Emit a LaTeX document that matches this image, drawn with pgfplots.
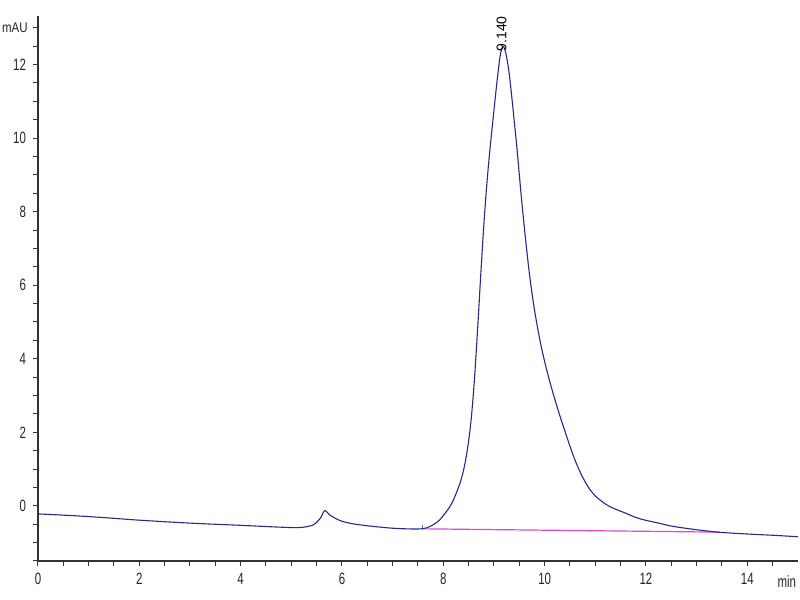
\documentclass[border=0pt]{standalone}
\usepackage{fontspec}
\setmainfont{Liberation Sans}[FakeStretch=0.7]
\newfontfamily\peakfont{Liberation Sans}
\newfontfamily\unitfont{Liberation Sans}[FakeStretch=0.82]
\usepackage{pgfplots}
\pgfplotsset{compat=1.18}
\definecolor{trace}{RGB}{40,40,135}
\definecolor{base}{RGB}{218,72,218}
\definecolor{axc}{RGB}{50,50,50}
\begin{document}
\begin{tikzpicture}
\begin{axis}[
  scale only axis,
  width=380pt, height=272.5pt,
  xmin=0, xmax=15, ymin=-1.5, ymax=13.32,
  axis lines=left,
  axis line style={-, axc, line width=0.6pt},
  tick align=outside,
  major tick length=2.5pt, minor tick length=2.5pt,
  tick style={axc, line width=0.5pt},
  xtick={0,2,...,14},
  ytick={0,2,...,12},
  minor xtick={0.5,1,...,14.5},
  minor ytick={-1.5,-1,...,13},
  /pgf/number format/assume math mode=true,
  ticklabel style={font=\fontsize{8.2}{10}\selectfont, text=black!85},
  clip=false,
]
\addplot[base, line width=0.6pt] coordinates {(7.58,-0.625) (13.46,-0.715)};
\addplot[black!60, line width=0.5pt] coordinates {(7.58,-0.64) (7.58,-0.52)};
\addplot[trace, line width=0.55pt, smooth, tension=0.5] coordinates {
(0,-0.22) (0.6,-0.26) (1.2,-0.31) (2,-0.39) (3.0,-0.47) (4,-0.53) (4.78,-0.58) (5.17,-0.59)
(5.43,-0.52) (5.57,-0.34) (5.66,-0.13) (5.76,-0.25) (5.96,-0.40) (6.22,-0.49) (6.62,-0.56)
(7.01,-0.61) (7.41,-0.63) (7.6,-0.62) (7.74,-0.56) (7.93,-0.38) (8.13,-0.02) (8.23,0.26)
(8.33,0.62) (8.38,0.86) (8.43,1.17) (8.48,1.58) (8.53,2.10) (8.57,2.66) (8.61,3.36)
(8.65,4.20) (8.69,5.12) (8.73,6.08) (8.77,7.00) (8.81,7.85) (8.85,8.60) (8.89,9.25)
(8.93,9.83) (8.97,10.37) (9.01,10.90) (9.05,11.42) (9.09,11.90) (9.12,12.22) (9.15,12.42)
(9.18,12.49) (9.21,12.43) (9.25,12.20) (9.30,11.75) (9.35,11.13) (9.40,10.45) (9.45,9.77)
(9.50,9.00) (9.55,8.25) (9.60,7.55) (9.65,6.90) (9.70,6.30) (9.75,5.78) (9.80,5.32)
(9.85,4.92) (9.90,4.55) (9.95,4.22) (10.00,3.92) (10.10,3.38) (10.20,2.90) (10.30,2.45)
(10.40,2.03) (10.50,1.62) (10.60,1.24) (10.70,0.92) (10.80,0.65) (10.90,0.43) (11.00,0.27)
(11.10,0.15) (11.20,0.05) (11.30,-0.03) (11.45,-0.12) (11.60,-0.20) (11.75,-0.29)
(11.90,-0.36) (12.05,-0.41) (12.28,-0.48) (12.54,-0.56) (13.0,-0.65) (13.46,-0.72)
(14.05,-0.77) (14.5,-0.80) (15,-0.84)
};
\node[rotate=90, anchor=west, inner sep=0pt, font=\peakfont\fontsize{7}{8}\selectfont]
  at (axis cs:9.15,12.35) {9.140};
\node[anchor=east, inner sep=0pt, font=\unitfont\fontsize{7}{8}\selectfont, text=black!85]
  at ([xshift=-5pt]axis cs:0,13) {mAU};
\node[anchor=north, inner sep=0pt, font=\fontsize{8.2}{10}\selectfont, text=black!85]
  at ([yshift=-7pt]axis cs:14.78,-1.5) {min};
\end{axis}
\pgfresetboundingbox
\path[use as bounding box] (-19pt,-19.5pt) rectangle (381pt,280.5pt);
\end{tikzpicture}
\end{document}
